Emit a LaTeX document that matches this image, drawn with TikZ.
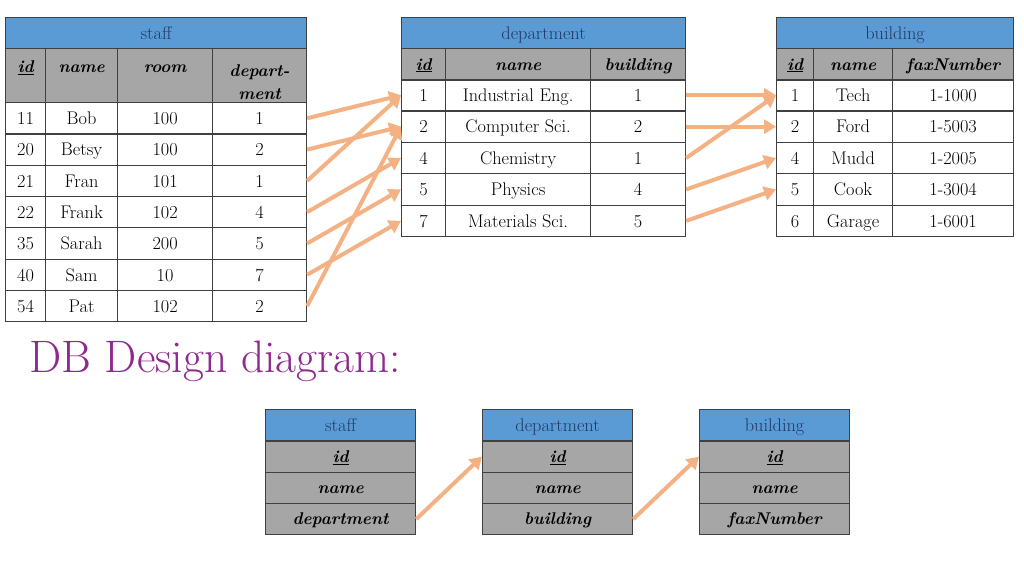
\documentclass[tikz,border=0pt]{standalone}
\usepackage{fontspec}
\usepackage{tikz}
\usetikzlibrary{arrows.meta}
\definecolor{hdblue}{HTML}{5B9BD5}
\definecolor{hdgray}{HTML}{A6A6A6}
\definecolor{navy}{HTML}{1F3864}
\definecolor{gridc}{HTML}{404040}
\definecolor{arrowc}{HTML}{F4B183}
\definecolor{titlec}{HTML}{8E2A8E}
\newcommand\cellsize{\fontsize{18.3}{23}\selectfont}
\newcommand\headsize{\fontsize{17}{23}\selectfont}

\begin{document}
\begin{tikzpicture}[x=1pt, y=-1pt,
    box/.style={draw=gridc, line width=1.2pt, inner sep=0pt, anchor=north west, minimum height=31.3},
    cell/.style={box, font=\cellsize, text height=12.5, text depth=0},
    tabletitle/.style={cell, fill=hdblue, text=navy},
    head/.style={box, fill=hdgray, font=\headsize\bfseries\itshape, text height=11.6, text depth=0},
    tallhead/.style={box, fill=hdgray, font=\headsize\bfseries\itshape, align=center, minimum height=54},
    fk/.style={draw=arrowc, line width=4pt, -{Triangle[width=14pt, length=12pt]}}]
  \useasboundingbox (0,0) rectangle (1024,576);

  % staff
  \node[tabletitle, minimum width=301] (staff) at (5,17) {staff};
  \foreach \x/\w/\t in {5/40/\underline{id}, 45/72/name, 117/95/room}
    \node[tallhead, minimum width=\w] at (\x,48) {\rule{0pt}{24pt}\t\\\strut};
  \node[tallhead, minimum width=94] (sdep) at (212,48) {\rule{0pt}{24pt}depart-\\ment};
  \foreach \sid/\sname/\sroom/\sdep [count=\r] in {11/Bob/100/1, 20/Betsy/100/2, 21/Fran/101/1, 22/Frank/102/4, 35/Sarah/200/5, 40/Sam/10/7, 54/Pat/102/2} {
    \pgfmathsetmacro\y{102+(\r-1)*31.3}
    \node[cell, minimum width=40] at (5,\y) {\sid};
    \node[cell, minimum width=72] at (45,\y) {\sname};
    \node[cell, minimum width=95] at (117,\y) {\sroom};
    \node[cell, minimum width=94] (s\r) at (212,\y) {\sdep};
  }

  % department
  \node[tabletitle, minimum width=284] (dept) at (401,17) {department};
  \node[head, minimum width=44] at (401,48) {\underline{id}};
  \node[head, minimum width=145] at (445,48) {name};
  \node[head, minimum width=95] at (590,48) {building};
  \foreach \did/\dname/\dbld [count=\r] in {1/Industrial Eng./1, 2/Computer Sci./2, 4/Chemistry/1, 5/Physics/4, 7/Materials Sci./5} {
    \pgfmathsetmacro\y{79+(\r-1)*31.4}
    \node[cell, minimum width=44] (d\r) at (401,\y) {\did};
    \node[cell, minimum width=145] at (445,\y) {\dname};
    \node[cell, minimum width=95] (db\r) at (590,\y) {\dbld};
  }

  % building
  \node[tabletitle, minimum width=237] (bldg) at (776,17) {building};
  \node[head, minimum width=37] at (776,48) {\underline{id}};
  \node[head, minimum width=79] at (813,48) {name};
  \node[head, minimum width=121] at (892,48) {faxNumber};
  \foreach \bid/\bname/\bfax [count=\r] in {1/Tech/1-1000, 2/Ford/1-5003, 4/Mudd/1-2005, 5/Cook/1-3004, 6/Garage/1-6001} {
    \pgfmathsetmacro\y{79+(\r-1)*31.4}
    \node[cell, minimum width=37] (b\r) at (776,\y) {\bid};
    \node[cell, minimum width=79] at (813,\y) {\bname};
    \node[cell, minimum width=121] at (892,\y) {\bfax};
  }

  \foreach \a/\b in {1/1, 2/2, 3/1, 4/3, 5/4, 6/5, 7/2}
    \draw[fk] (s\a.east) -- (d\b.west);
  \foreach \a/\b in {1/1, 2/2, 3/1, 4/3, 5/4}
    \draw[fk] (db\a.east) -- (b\b.west);

  \node[anchor=base west, inner sep=0pt, text=titlec, font=\fontsize{45.5}{54}\selectfont] (heading) at (29,372) {DB Design diagram:};

  % design diagram
  \foreach \x/\tname/\fa/\fb/\fc in {265/staff/\underline{id}/name/department, 482/department/\underline{id}/name/building, 699/building/\underline{id}/name/faxNumber} {
    \node[tabletitle, minimum width=150] (l\tname) at (\x,409) {\tname};
    \node[head, minimum width=150] (l\tname1) at (\x,440.3) {\fa};
    \node[head, minimum width=150] (l\tname2) at (\x,471.6) {\fb};
    \node[head, minimum width=150] (l\tname3) at (\x,502.9) {\fc};
  }
  \draw[fk] (lstaff3.east) -- (ldepartment1.west);
  \draw[fk] (ldepartment3.east) -- (lbuilding1.west);
\end{tikzpicture}
\end{document}
